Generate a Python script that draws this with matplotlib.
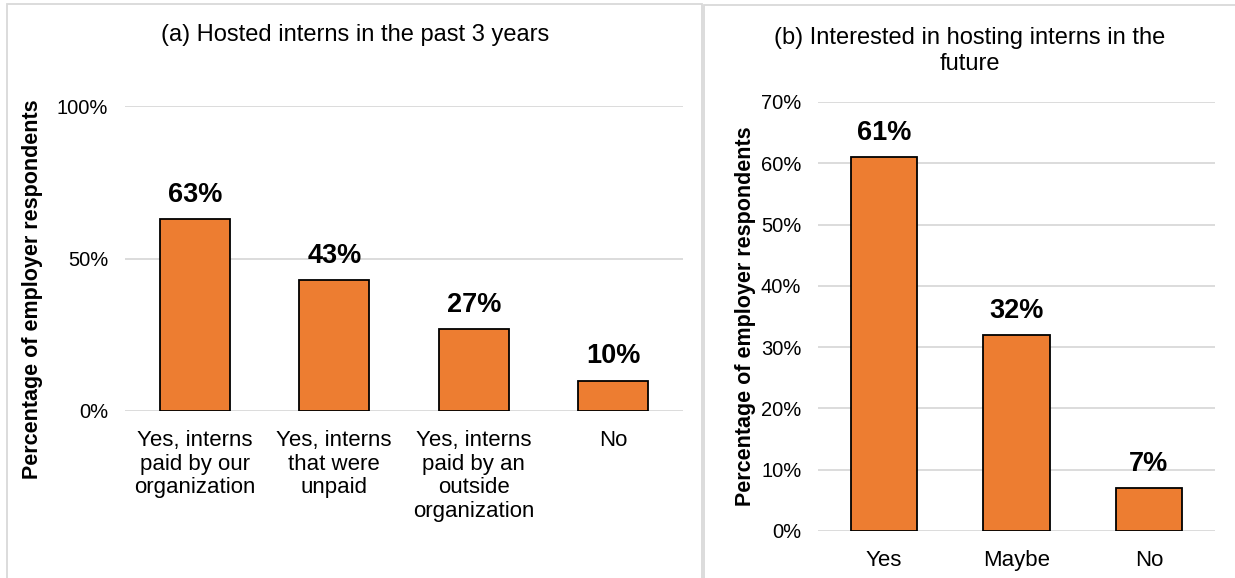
import matplotlib
matplotlib.use("Agg")
import matplotlib.pyplot as plt
from matplotlib.patches import Rectangle
from matplotlib.ticker import FuncFormatter

plt.rcParams['font.family'] = ['Liberation Sans', 'DejaVu Sans']

# Panel (a): hosted interns in the past 3 years
hosted_labels = ['Yes, interns\npaid by our\norganization',
                 'Yes, interns\nthat were\nunpaid',
                 'Yes, interns\npaid by an\noutside\norganization',
                 'No']
hosted_values = [63, 43, 27, 10]

# Panel (b): interested in hosting interns in the future
future_labels = ['Yes', 'Maybe', 'No']
future_values = [61, 32, 7]

BAR_COLOR = '#ED7D31'
GRID_COLOR = '#D9D9D9'
YLABEL = 'Percentage of employer respondents'

fig = plt.figure(figsize=(12.35, 5.78), dpi=100)

# panel frames
fig.patches.append(Rectangle((7 / 1235, -0.05), 695 / 1235, 1 - 4 / 578 + 0.05,
                             transform=fig.transFigure, fill=False,
                             edgecolor=GRID_COLOR, lw=1.3))
fig.patches.append(Rectangle((704 / 1235, -0.05), 540 / 1235, 1 - 5 / 578 + 0.05,
                             transform=fig.transFigure, fill=False,
                             edgecolor=GRID_COLOR, lw=1.3))

pct = FuncFormatter(lambda v, _: f'{v:.0f}%')


def draw_panel(ax, labels, values, ymax, yticks, label_xy):
    x = range(len(values))
    bars = ax.bar(x, values, width=0.5, color=BAR_COLOR, edgecolor='black',
                  linewidth=1.3, zorder=3)
    for b, v in zip(bars, values):
        ax.annotate(f'{v}%', (b.get_x() + b.get_width() / 2, v),
                    xytext=(0, 8), textcoords='offset points',
                    ha='center', va='bottom', fontsize=19.5, fontweight='bold')
    ax.set_xlim(-0.5, len(values) - 0.5)
    ax.set_ylim(0, ymax)
    ax.set_yticks(yticks)
    ax.yaxis.set_major_formatter(pct)
    ax.grid(axis='y', color=GRID_COLOR, lw=1.3, zorder=0)
    for s in ax.spines.values():
        s.set_visible(False)
    ax.tick_params(axis='y', length=0, pad=12, labelsize=14.5)
    ax.tick_params(axis='x', length=0, pad=14, labelsize=16)
    ax.set_xticks(list(x))
    ax.set_xticklabels(labels, va='top', linespacing=1.15)
    ax.set_ylabel(YLABEL, fontsize=15.5, fontweight='bold')
    ax.yaxis.set_label_coords(*label_xy)
    return ax


ax1 = fig.add_axes([125 / 1235, 1 - 411 / 578, 558 / 1235, 305 / 578])
draw_panel(ax1, hosted_labels, hosted_values, 100, [0, 50, 100], (-0.147, 0.4))
fig.text(355 / 1235, 1 - 35 / 578, '(a) Hosted interns in the past 3 years',
         ha='center', va='center', fontsize=17)

ax2 = fig.add_axes([818 / 1235, 1 - 531 / 578, 397 / 1235, 429 / 578])
draw_panel(ax2, future_labels, future_values, 70, range(0, 71, 10), (-0.155, 0.5))
fig.text(970 / 1235, 1 - 51 / 578, '(b) Interested in hosting interns in the\nfuture',
         ha='center', va='center', fontsize=17, linespacing=1.2)

fig.savefig('out.png', dpi=100)
